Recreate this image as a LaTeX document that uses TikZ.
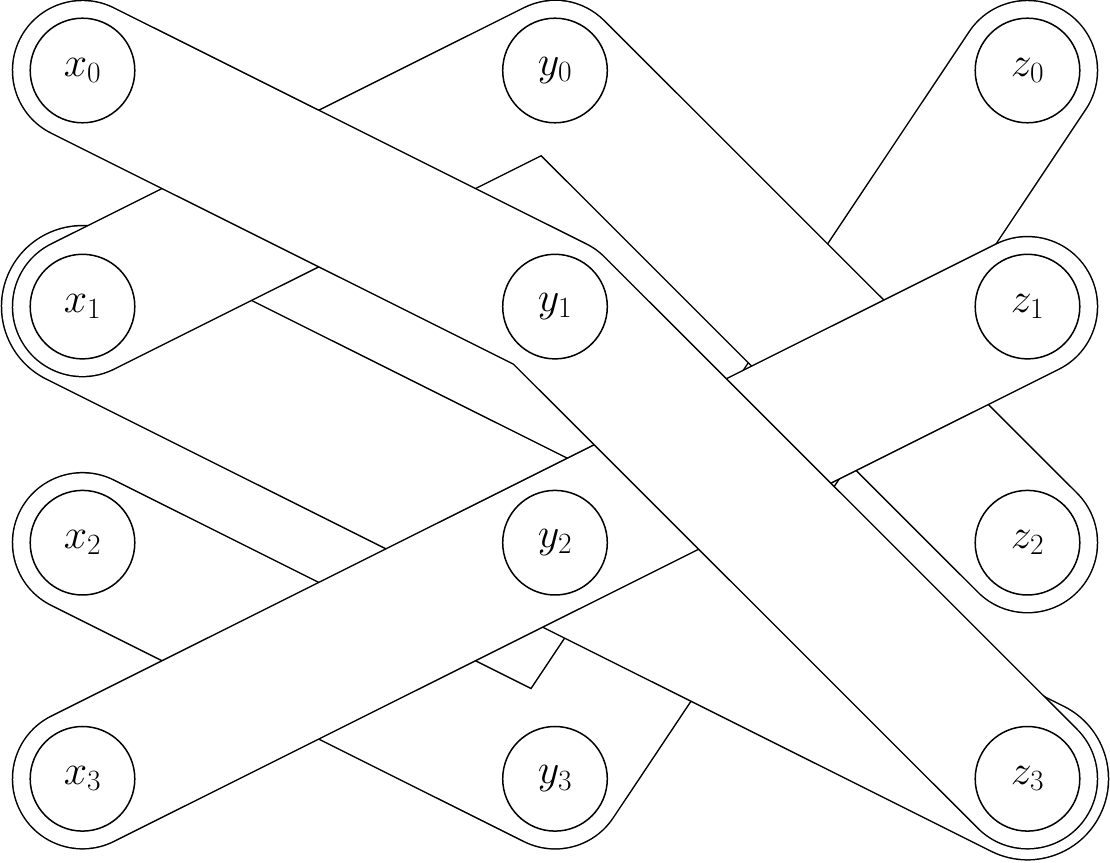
\RequirePackage{fix-cm}
\documentclass[tikz,border=0pt]{standalone}
\pgfdeclarelayer{bands}
\pgfsetlayers{bands,main}
\tikzset{
  vert/.style={circle, draw, line width=1.5pt, fill=white, minimum size=104.6pt,
    inner sep=0pt, font=\fontsize{42}{50}\selectfont},
  band/.style={line cap=round, line join=round},
  bandA/.style={band, draw=white, line width=138.5pt,
    preaction={draw=black, band, line width=141.5pt}},
  bandB/.style={band, draw=white, line width=160.5pt,
    preaction={draw=black, band, line width=163.5pt}},
}
\begin{document}
\begin{tikzpicture}[x=1pt,y=1pt]
\useasboundingbox (0,0) rectangle (1110,862);
% vertices
\node[vert] (x0) at (82.5,791.5) {$x_0$};
\node[vert] (x1) at (82.5,555.4) {$x_1$};
\node[vert] (x2) at (82.5,319.3) {$x_2$};
\node[vert] (x3) at (82.5,83.2) {$x_3$};
\node[vert] (y0) at (555,791.5) {$y_0$};
\node[vert] (y1) at (555,555.4) {$y_1$};
\node[vert] (y2) at (555,319.3) {$y_2$};
\node[vert] (y3) at (555,83.2) {$y_3$};
\node[vert] (z0) at (1027.5,791.5) {$z_0$};
\node[vert] (z1) at (1027.5,555.4) {$z_1$};
\node[vert] (z2) at (1027.5,319.3) {$z_2$};
\node[vert] (z3) at (1027.5,83.2) {$z_3$};
% hyperedges
\begin{pgfonlayer}{bands}
\draw[bandA] (x2.center) -- (y3.center) -- (z0.center);
\draw[bandB] (x1.center) -- (y2.center) -- (z3.center);
\draw[bandA] (x1.center) -- (y0.center) -- (z2.center);
\draw[bandA] (x3.center) -- (y2.center) -- (z1.center);
\draw[bandA] (x0.center) -- (y1.center) -- (z3.center);
\end{pgfonlayer}
\end{tikzpicture}
\end{document}
